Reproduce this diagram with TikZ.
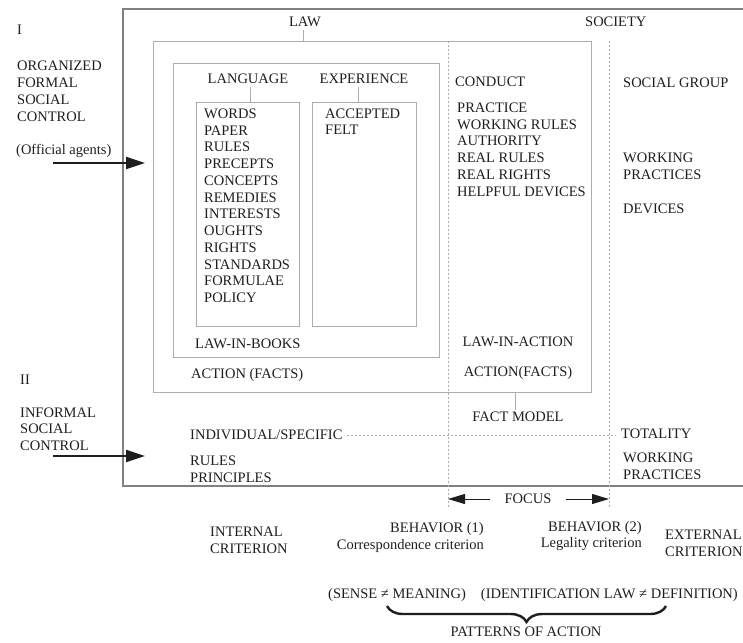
\documentclass[tikz,border=0pt]{standalone}
\usepackage{fontspec}
\setmainfont{Liberation Serif}
\usetikzlibrary{arrows.meta,decorations.pathreplacing}
\definecolor{boxgray}{HTML}{ADADAD}
\definecolor{framegray}{HTML}{808080}
\definecolor{ink}{HTML}{1E1E1E}
\begin{document}
\begin{tikzpicture}[x=1pt,y=-1pt,
  every node/.style={font=\fontsize{14.5}{16.8}\selectfont, text=ink, inner sep=0pt},
  lbl/.style={anchor=west, text height=8.6pt, text depth=0pt},
  clbl/.style={text height=8.6pt, text depth=0pt},
  rlbl/.style={anchor=east, text height=8.6pt, text depth=0pt},
  box/.style={draw=boxgray, line width=1pt, anchor=north west},
  tick/.style={draw=boxgray, line width=1pt},
  dots/.style={draw=boxgray, line width=0.9pt, dash pattern=on 2pt off 2pt},
  bigarrow/.style={-{Triangle[length=19pt,width=12pt]}, line width=1.8pt, draw=ink},
  focusarrow/.style={-{Triangle[length=17pt,width=10pt]}, line width=1pt, draw=ink}]
\useasboundingbox (0,0) rectangle (743,642);

\draw[framegray, line width=2pt] (743,9) -| (123,486) -- (743,486);

\node[lbl] (one) at (17,30) {I};
\foreach \w [count=\i] in {ORGANIZED,FORMAL,SOCIAL,CONTROL}
  \node[lbl] (ofsc\i) at (17,{66+17*(\i-1)}) {\w};
\node[lbl] (agents) at (16,150) {(Official agents)};
\node[lbl] (two) at (20,380) {II};
\foreach \w [count=\i] in {INFORMAL,SOCIAL,CONTROL}
  \node[lbl] (isc\i) at (20,{413+16.5*(\i-1)}) {\w};
\coordinate (a1s) at (53,163);
\coordinate (a1t) at (145,163);
\coordinate (a2s) at (53,456);
\coordinate (a2t) at (145,456);
\draw[bigarrow] (a1s) -- (a1t);
\draw[bigarrow] (a2s) -- (a2t);

\node[clbl] (law) at (305,22) {LAW};
\node[lbl] (society) at (585,22) {SOCIETY};
\node[box, minimum width=438pt, minimum height=351pt] (lawbox) at (153,41) {};
\node[box, minimum width=266pt, minimum height=294pt] (bookbox) at (173,63) {};
\node[clbl] (language) at (248,79) {LANGUAGE};
\node[clbl] (experience) at (364,79) {EXPERIENCE};
\node[box, minimum width=103pt, minimum height=224pt] (langbox) at (196,102) {};
\node[box, minimum width=104pt, minimum height=224pt] (expbox) at (312,102) {};
\draw[tick] (law.south) ++(-2,4) -- (lawbox.north -| 303,0);
\draw[tick] (language.south) ++(2,3) -- (langbox.north -| 250,0);
\draw[tick] (experience.south) ++(-6,3) -- (expbox.north -| 358,0);

\foreach \w [count=\i] in {WORDS,PAPER,RULES,PRECEPTS,CONCEPTS,REMEDIES,INTERESTS,OUGHTS,RIGHTS,STANDARDS,FORMULAE,POLICY}
  \node[lbl] (word\i) at (204,{114+16.75*(\i-1)}) {\w};
\node[lbl] (accepted) at (325,114) {ACCEPTED};
\node[lbl] (felt) at (325,130.5) {FELT};
\node[lbl] (books) at (195,344) {LAW-IN-BOOKS};
\node[lbl] (facts1) at (191,374) {ACTION (FACTS)};

\node[lbl] (conduct) at (455,82) {CONDUCT};
\foreach \w [count=\i] in {PRACTICE,WORKING RULES,AUTHORITY,REAL RULES,REAL RIGHTS,HELPFUL DEVICES}
  \node[lbl] (cond\i) at (457,{108+16.8*(\i-1)}) {\w};
\node[clbl] (inaction) at (518,342) {LAW-IN-ACTION};
\node[clbl] (facts2) at (518,372) {ACTION(FACTS)};
\node[clbl] (factmodel) at (518,417) {FACT MODEL};
\draw[tick] (factmodel.north -| 515,0) ++(0,-3) -- (lawbox.south -| 515,0);

\node[lbl] (group) at (623,83) {SOCIAL GROUP};
\node[lbl] (wp1) at (623,158) {WORKING};
\node[lbl] (wp2) at (623,175) {PRACTICES};
\node[lbl] (devices) at (623,209) {DEVICES};
\node[lbl] (totality) at (621,434) {TOTALITY};
\node[lbl] (wp3) at (623,458) {WORKING};
\node[lbl] (wp4) at (623,475) {PRACTICES};

\node[lbl] (indiv) at (190,435) {INDIVIDUAL/SPECIFIC};
\node[lbl] (rules) at (190,461) {RULES};
\node[lbl] (principles) at (190,478) {PRINCIPLES};
\draw[dots, shorten <=4pt, shorten >=6pt] (indiv.east) -- (indiv.east -| totality.west);

\coordinate (d1t) at (448,41);
\coordinate (d1b) at (448,508);
\coordinate (d2t) at (609,41);
\coordinate (d2b) at (609,508);
\draw[dots] (d1t) -- (d1b);
\draw[dots] (d2t) -- (d2b);

\node[clbl, inner xsep=14pt] (focus) at (528,499) {FOCUS};
\coordinate (fl) at (448,499);
\coordinate (fr) at (609,499);
\draw[focusarrow] (focus.west) -- (fl);
\draw[focusarrow] (focus.east) -- (fr);

\node[lbl] (int1) at (210,532) {INTERNAL};
\node[lbl] (int2) at (210,549) {CRITERION};
\node[rlbl] (beh1) at (484,528) {BEHAVIOR (1)};
\node[rlbl] (corr) at (484,545) {Correspondence criterion};
\node[rlbl] (beh2) at (642,527) {BEHAVIOR (2)};
\node[rlbl] (legal) at (642,543) {Legality criterion};
\node[lbl] (ext1) at (665,535) {EXTERNAL};
\node[lbl] (ext2) at (665,552) {CRITERION};

\node[lbl] (sense) at (328,594) {(SENSE ≠ MEANING)};
\node[rlbl] (ident) at (738,594) {(IDENTIFICATION LAW ≠ DEFINITION)};
\coordinate (bl) at (387,606);
\coordinate (br) at (666,606);
\draw[ink, line width=2.4pt, decorate, decoration={brace, mirror, amplitude=16pt}] (bl) -- (br);
\node[clbl] (patterns) at (526,632) {PATTERNS OF ACTION};
\end{tikzpicture}
\end{document}
